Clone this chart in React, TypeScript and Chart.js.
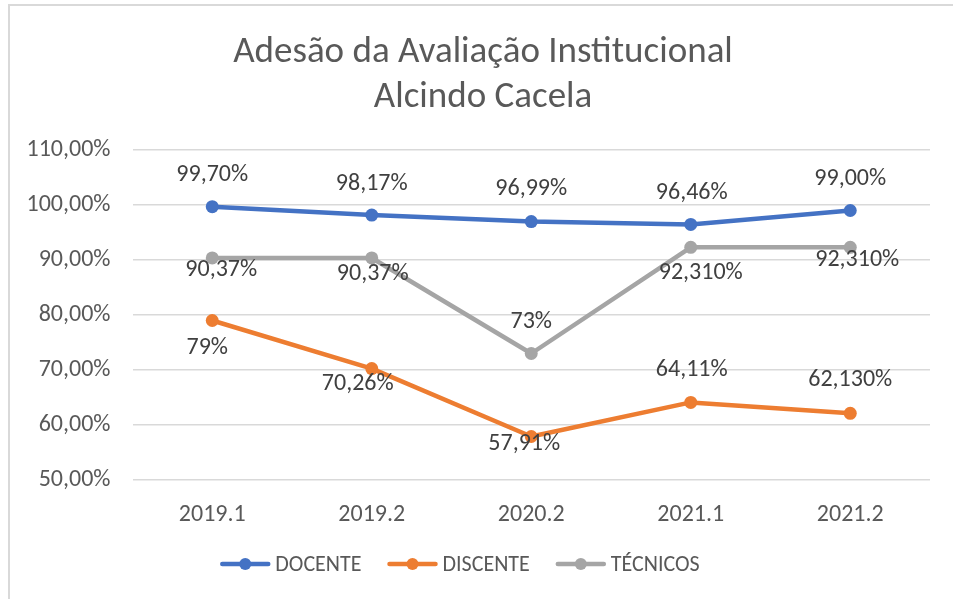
import React, { useEffect, useRef } from "react";
import { Chart, registerables } from "chart.js";

Chart.register(...registerables);

const categories = ["2019.1", "2019.2", "2020.2", "2021.1", "2021.2"];
const seriesNames = ["DOCENTE", "DISCENTE", "TÉCNICOS"];
const docente = [99.7, 98.17, 96.99, 96.46, 99.0];
const discente = [79, 70.26, 57.91, 64.11, 62.13];
const tecnicos = [90.37, 90.37, 73, 92.31, 92.31];
const docenteLabels = ["99,70%", "98,17%", "96,99%", "96,46%", "99,00%"];
const discenteLabels = ["79%", "70,26%", "57,91%", "64,11%", "62,130%"];
const tecnicosLabels = ["90,37%", "90,37%", "73%", "92,310%", "92,310%"];
const titleLines = ["Adesão da Avaliação Institucional", "Alcindo Cacela"];
const yMin = 50;
const yMax = 110;
const yStep = 10;

const colors = ["#4472C4", "#ED7D31", "#A5A5A5"];
const FONT = "Carlito, Calibri, Lato, sans-serif";

// label placement (styling): offsets of label centre from point centre
const labelOffsets = [
  [[0, -32], [0, -31], [0, -33], [1, -31], [0, -32]],
  [[-5, 27], [-14, 15], [-7, 8], [1, -32], [0, -33]],
  [[9, 12], [1, 16], [0, -32], [10, 26], [7, 13]],
];

const allLabels = [docenteLabels, discenteLabels, tecnicosLabels];

const overlayPlugin = {
  id: "overlay",
  afterDatasetsDraw(chart: any) {
    const ctx = chart.ctx;
    ctx.save();
    ctx.font = `24px ${FONT}`;
    ctx.fillStyle = "#404040";
    ctx.textAlign = "center";
    ctx.textBaseline = "middle";
    chart.data.datasets.forEach((ds: any, di: number) => {
      const meta = chart.getDatasetMeta(di);
      meta.data.forEach((pt: any, i: number) => {
        const off = labelOffsets[di][i];
        ctx.fillText(allLabels[di][i], pt.x + off[0], pt.y + off[1]);
      });
    });
    ctx.restore();
  },
  afterDraw(chart: any) {
    const ctx = chart.ctx;
    ctx.save();
    // frame
    ctx.strokeStyle = "#d9d9d9";
    ctx.lineWidth = 2;
    ctx.beginPath();
    ctx.moveTo(9, 620);
    ctx.lineTo(9, 5);
    ctx.lineTo(980, 5);
    ctx.stroke();
    // title
    ctx.fillStyle = "#595959";
    ctx.font = `37px ${FONT}`;
    ctx.textAlign = "center";
    ctx.textBaseline = "alphabetic";
    ctx.fillText(titleLines[0], 483, 62);
    ctx.fillText(titleLines[1], 483, 107);
    // legend
    ctx.font = `22px ${FONT}`;
    ctx.textBaseline = "middle";
    ctx.textAlign = "left";
    const markerW = 50;
    const gapText = 5;
    const gapItem = 26;
    const widths = seriesNames.map((n) => markerW + gapText + ctx.measureText(n).width);
    const total = widths.reduce((a, b) => a + b, 0) + gapItem * (seriesNames.length - 1);
    let x = 460 - total / 2;
    const y = 564;
    seriesNames.forEach((n, i) => {
      ctx.strokeStyle = colors[i];
      ctx.lineWidth = 4.5;
      ctx.lineCap = "round";
      ctx.beginPath();
      ctx.moveTo(x + 2, y);
      ctx.lineTo(x + markerW - 2, y);
      ctx.stroke();
      ctx.fillStyle = colors[i];
      ctx.beginPath();
      ctx.arc(x + markerW / 2, y, 6, 0, Math.PI * 2);
      ctx.fill();
      ctx.fillStyle = "#595959";
      ctx.fillText(n, x + markerW + gapText, y + 1);
      x += widths[i] + gapItem;
    });
    ctx.restore();
  },
};

export default function App() {
  const ref = useRef<HTMLCanvasElement>(null);
  useEffect(() => {
    if (!ref.current) return;
    const seriesData = [docente, discente, tecnicos];
    const chart = new Chart(ref.current, {
      type: "line",
      data: {
        labels: categories,
        datasets: seriesData.map((d, i) => ({
          label: seriesNames[i],
          data: d,
          borderColor: colors[i],
          backgroundColor: colors[i],
          pointBackgroundColor: colors[i],
          pointBorderWidth: 0,
          pointRadius: 6.5,
          borderWidth: 4.5,
          borderCapStyle: "round",
          borderJoinStyle: "round",
          tension: 0,
          fill: false,
        })),
      },
      options: {
        responsive: false,
        animation: false,
        layout: { padding: { left: 0, right: 23, top: 150, bottom: 59 } },
        plugins: {
          legend: { display: false },
          title: { display: false },
          tooltip: { enabled: false },
        },
        scales: {
          x: {
            offset: true,
            grid: { display: false },
            border: { display: false },
            ticks: { color: "#595959", font: { family: FONT, size: 24 }, padding: 13 },
            afterFit: (s: any) => {
              s.height = 60;
            },
          },
          y: {
            min: yMin,
            max: yMax,
            ticks: {
              stepSize: yStep,
              color: "#595959",
              font: { family: FONT, size: 24 },
              padding: 22,
              callback: (v: any) => Number(v).toFixed(2).replace(".", ",") + "%",
            },
            grid: { color: "#d9d9d9", lineWidth: 1.5, drawTicks: false },
            border: { display: false },
            afterFit: (s: any) => {
              s.width = 132.5;
            },
          },
        },
      },
      plugins: [overlayPlugin],
    });
    return () => chart.destroy();
  }, []);
  return (
    <div style={{ position: "absolute", left: 0, top: 0, width: 953, height: 599, background: "#fff" }}>
      <canvas ref={ref} width={953} height={599} />
    </div>
  );
}
